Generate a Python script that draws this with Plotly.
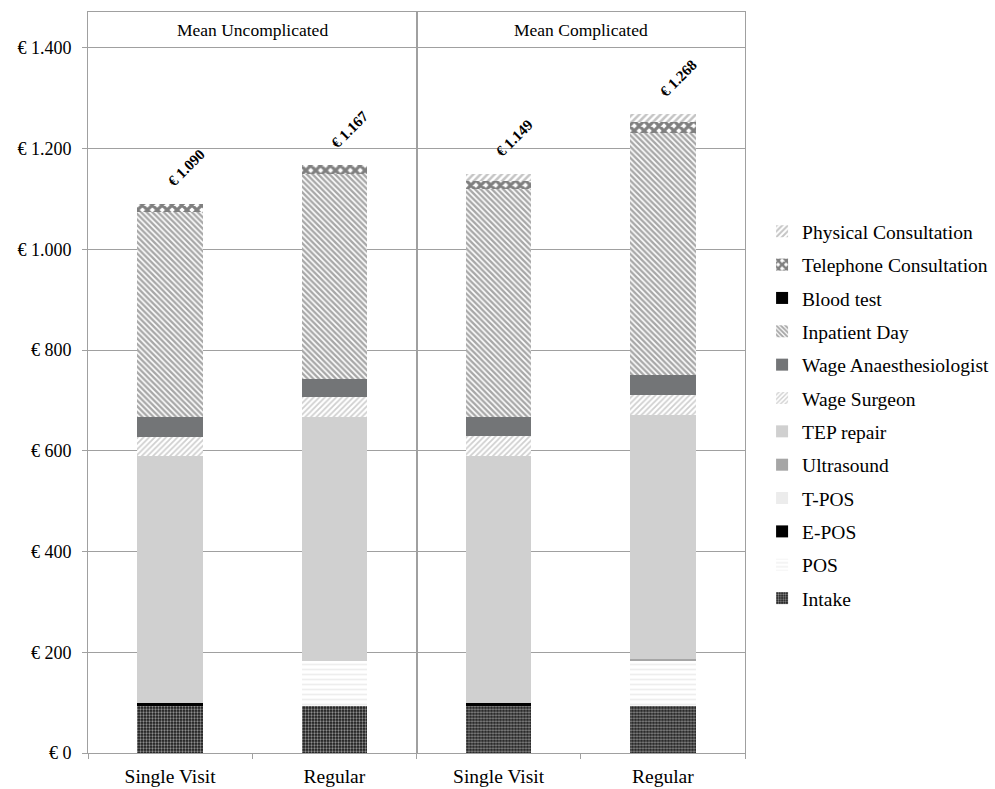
import plotly.graph_objects as go
from plotly.subplots import make_subplots

groups = ["Mean Uncomplicated", "Mean Complicated"]
categories = ["Single Visit", "Regular"]

# values per bar: [Uncompl. Single, Uncompl. Regular, Compl. Single, Compl. Regular]
intake = [93, 93, 93, 93]
pos = [0, 90, 0, 90]
e_pos = [7, 0, 7, 0]
t_pos = [0, 0, 0, 0]
ultrasound = [0, 0, 0, 3]
tep_repair = [490, 485, 489, 485]
wage_surgeon = [38, 38, 41, 39]
wage_anaesthesiologist = [40, 37, 38, 40]
inpatient_day = [406, 406, 452, 480]
blood_test = [0, 0, 0, 0]
telephone_consultation = [16, 18, 15, 23]
physical_consultation = [0, 0, 14, 15]
totals = [1090, 1167, 1149, 1268]

y_tick_vals = [0, 200, 400, 600, 800, 1000, 1200, 1400]
y_tick_text = ["€ 0", "€ 200", "€ 400", "€ 600", "€ 800", "€ 1.000", "€ 1.200", "€ 1.400"]

series = [
    ("Intake", intake, dict(color="white", pattern=dict(shape=".", fgcolor="white", bgcolor="#1a1a1a", size=3, solidity=0.45, fillmode="overlay"))),
    ("POS", pos, dict(color="white", pattern=dict(shape="-", fgcolor="#dedede", bgcolor="white", size=5, solidity=0.35, fillmode="overlay"))),
    ("E-POS", e_pos, dict(color="black")),
    ("T-POS", t_pos, dict(color="#ececec")),
    ("Ultrasound", ultrasound, dict(color="#a6a6a6")),
    ("TEP repair", tep_repair, dict(color="#d0d0d0")),
    ("Wage Surgeon", wage_surgeon, dict(color="white", pattern=dict(shape="/", fgcolor="#a0a0a0", bgcolor="white", size=4, solidity=0.45, fillmode="overlay"))),
    ("Wage Anaesthesiologist", wage_anaesthesiologist, dict(color="#737577")),
    ("Inpatient Day", inpatient_day, dict(color="white", pattern=dict(shape="\\", fgcolor="#505050", bgcolor="white", size=4, solidity=0.6, fillmode="overlay"))),
    ("Blood test", blood_test, dict(color="black")),
    ("Telephone Consultation", telephone_consultation, dict(color="white", pattern=dict(shape="x", fgcolor="black", bgcolor="white", size=7, solidity=0.7, fillmode="overlay"))),
    ("Physical Consultation", physical_consultation, dict(color="white", pattern=dict(shape="/", fgcolor="#8a8a8a", bgcolor="white", size=5, solidity=0.5, fillmode="overlay"))),
]

FONT = "Liberation Serif"

fig = make_subplots(rows=1, cols=2, shared_yaxes=True, horizontal_spacing=0)

n = len(series)
for i, (name, vals, marker) in enumerate(series):
    for col in (1, 2):
        fig.add_trace(
            go.Bar(
                x=categories,
                y=vals[(col - 1) * 2:(col - 1) * 2 + 2],
                name=name,
                marker=dict(**marker, line=dict(width=0)),
                legendgroup=name,
                legendrank=n - i,
                showlegend=(col == 1),
                hoverinfo="skip",
            ),
            row=1, col=col,
        )

# total labels
for k, tot in enumerate(totals):
    col = k // 2 + 1
    xref = "x" if col == 1 else "x2"
    yref = "y" if col == 1 else "y2"
    fig.add_annotation(
        x=categories[k % 2], y=tot, xref=xref, yref=yref,
        text="<b>€ " + f"{tot:,}".replace(",", ".") + "</b>",
        textangle=-45, showarrow=False, xshift=16, yshift=36,
        font=dict(family=FONT, size=15, color="black"),
    )

# group header labels
for col, g in enumerate(groups, start=1):
    xref = "x domain" if col == 1 else "x2 domain"
    fig.add_annotation(
        x=0.5, y=1471 - 36, xref=xref, yref="y",
        text=g, showarrow=False,
        font=dict(family=FONT, size=17.5, color="black"),
    )

axis_color = "#a0a0a0"
for col in (1, 2):
    fig.update_xaxes(
        row=1, col=col, type="category", showline=True, mirror=True,
        linecolor=axis_color, linewidth=1, ticks="outside", tickson="boundaries",
        ticklen=5, tickcolor=axis_color, showgrid=False, ticklabelstandoff=6,
        automargin=False,
        tickfont=dict(family=FONT, size=19.5, color="black"),
    )
    fig.update_yaxes(
        row=1, col=col, range=[0, 1471], showline=True, mirror=True,
        linecolor=axis_color, linewidth=1, showgrid=True, gridcolor=axis_color,
        gridwidth=1, zeroline=False, tickvals=y_tick_vals, ticktext=y_tick_text,
        automargin=False,
    )
fig.update_yaxes(row=1, col=1, ticks="outside", ticklen=5, tickcolor=axis_color,
                 ticklabelstandoff=7,
                 tickfont=dict(family=FONT, size=18, color="black"))
fig.update_yaxes(row=1, col=2, showticklabels=False, ticks="")

fig.update_layout(
    barmode="stack",
    bargap=0.6,
    width=995, height=789,
    margin=dict(l=88, r=250, t=12, b=36, autoexpand=False),
    plot_bgcolor="white", paper_bgcolor="white",
    font=dict(family=FONT, size=18, color="black"),
    legend=dict(
        traceorder="grouped", x=1.026, xanchor="left", y=0.73, yanchor="top",
        font=dict(family=FONT, size=19.5, color="black"),
        tracegroupgap=5, itemwidth=30, bgcolor="rgba(0,0,0,0)",
    ),
)

fig.write_html("out.html")
